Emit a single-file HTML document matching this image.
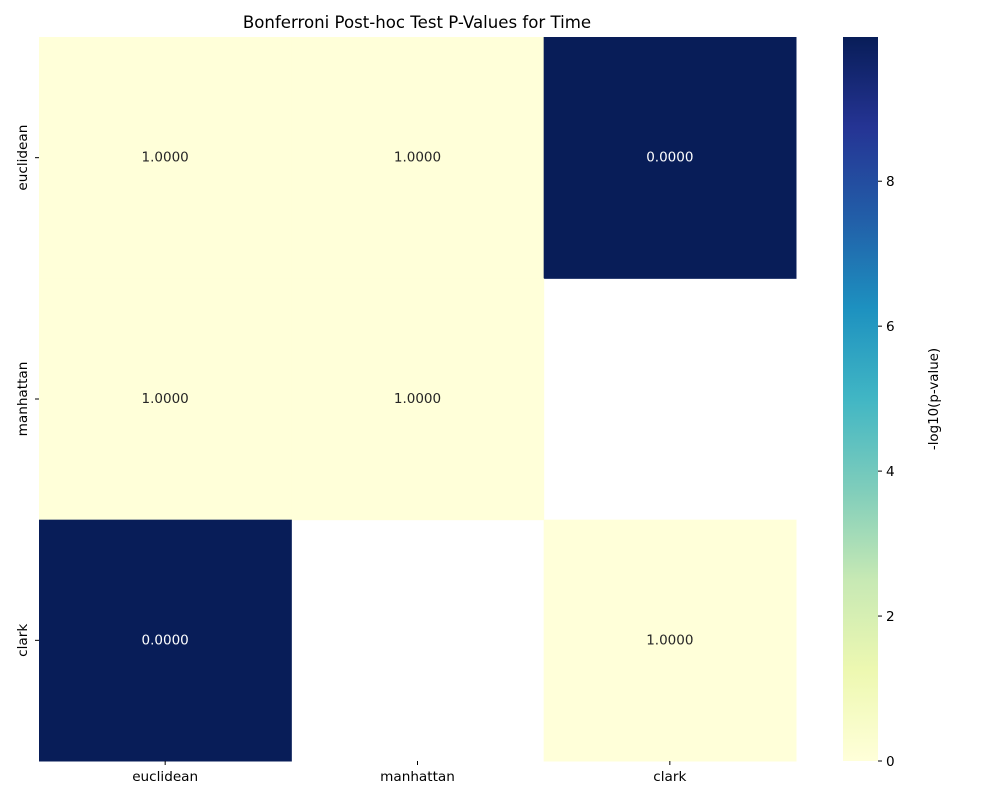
<!DOCTYPE html>
<html><head><meta charset="utf-8"><style>
body{margin:0;background:#fff;}
svg{font-family:"DejaVu Sans","Liberation Sans",sans-serif;}
</style></head><body>
<svg id="chart" width="1000" height="800" xmlns="http://www.w3.org/2000/svg">
<defs>
<linearGradient id="ylgnbu" x1="0" y1="1" x2="0" y2="0">
<stop offset="0" stop-color="#ffffd9"/>
<stop offset="0.125" stop-color="#edf8b1"/>
<stop offset="0.25" stop-color="#c7e9b4"/>
<stop offset="0.375" stop-color="#7fcdbb"/>
<stop offset="0.5" stop-color="#41b6c4"/>
<stop offset="0.625" stop-color="#1d91c0"/>
<stop offset="0.75" stop-color="#225ea8"/>
<stop offset="0.875" stop-color="#253494"/>
<stop offset="1" stop-color="#081d58"/>
</linearGradient>
</defs>
<text x="417" y="28" text-anchor="middle" font-size="16.6" fill="#000">Bonferroni Post-hoc Test P-Values for Time</text>
<g id="cells"></g>
<g id="axes"></g>
<rect x="843" y="37" width="35" height="724" fill="url(#ylgnbu)"/>
<g id="cbar"></g>
<text transform="translate(938,399) rotate(-90)" text-anchor="middle" font-size="13.4" fill="#000">-log10(p-value)</text>
</svg>
<script>
const categories = ["euclidean","manhattan","clark"];
const logValues = [[0,0,9.99],[0,0,null],[9.99,null,0]];
const pLabels = [["1.0000","1.0000","0.0000"],["1.0000","1.0000",null],["0.0000",null,"1.0000"]];
const cbarTicks = [0,2,4,6,8];
const vmin = 0, vmax = 9.99;

const NS="http://www.w3.org/2000/svg";
const X0=39,X1=796,Y0=37,Y1=761;
const cw=(X1-X0)/categories.length, ch=(Y1-Y0)/categories.length;
const xPos=i=>X0+i*cw, yPos=i=>Y0+i*ch;
const cbY=v=>Y1-(v-vmin)/(vmax-vmin)*(Y1-Y0);
const stops=[[0,"#ffffd9"],[0.125,"#edf8b1"],[0.25,"#c7e9b4"],[0.375,"#7fcdbb"],[0.5,"#41b6c4"],[0.625,"#1d91c0"],[0.75,"#225ea8"],[0.875,"#253494"],[1,"#081d58"]];
function hex(h){return [1,3,5].map(k=>parseInt(h.substr(k,2),16));}
function color(v){let t=Math.max(0,Math.min(1,(v-vmin)/(vmax-vmin)));
 for(let k=1;k<stops.length;k++){if(t<=stops[k][0]){const a=hex(stops[k-1][1]),b=hex(stops[k][1]);const f=(t-stops[k-1][0])/(stops[k][0]-stops[k-1][0]);
 return "rgb("+a.map((c,i)=>Math.round(c+(b[i]-c)*f)).join(",")+")";}}return stops[8][1];}
function mk(tag,attrs,parent){const e=document.createElementNS(NS,tag);for(const k in attrs)e.setAttribute(k,attrs[k]);parent.appendChild(e);return e;}
const cells=document.getElementById("cells"),axes=document.getElementById("axes"),cbar=document.getElementById("cbar");
for(let r=0;r<categories.length;r++)for(let c=0;c<categories.length;c++){
 const v=logValues[r][c]; if(v===null)continue;
 const rect=mk("rect",{x:xPos(c),y:yPos(r),width:cw+0.5,height:ch+0.5,fill:color(v)},cells);
 
 
 const t=mk("text",{x:xPos(c)+cw/2,y:yPos(r)+ch/2+4,"text-anchor":"middle","font-size":"13.5",fill:(v-vmin)/(vmax-vmin)>0.5?"#fff":"#262626"},cells);
 t.textContent=pLabels[r][c];
 
 
}
categories.forEach((n,i)=>{
 const cx=xPos(i)+cw/2;
 mk("line",{x1:cx,x2:cx,y1:Y1,y2:Y1+4,stroke:"#000"},axes);
 const t=mk("text",{x:cx,y:Y1+20,"text-anchor":"middle","font-size":"13.6"},axes);t.textContent=n;
 
 
 const cy=yPos(i)+ch/2;
 mk("line",{x1:X0-4,x2:X0,y1:cy,y2:cy,stroke:"#000"},axes);
 const u=mk("text",{transform:`translate(${X0-12},${cy}) rotate(-90)`,"text-anchor":"middle","font-size":"13.6"},axes);u.textContent=n;
 
 
});
cbarTicks.forEach(v=>{
 const y=cbY(v);
 mk("line",{x1:878,x2:882,y1:y,y2:y,stroke:"#000"},cbar);
 const t=mk("text",{x:886,y:y+5,"font-size":"13.6"},cbar);t.textContent=v;
 
 
});
</script>
</body></html>
